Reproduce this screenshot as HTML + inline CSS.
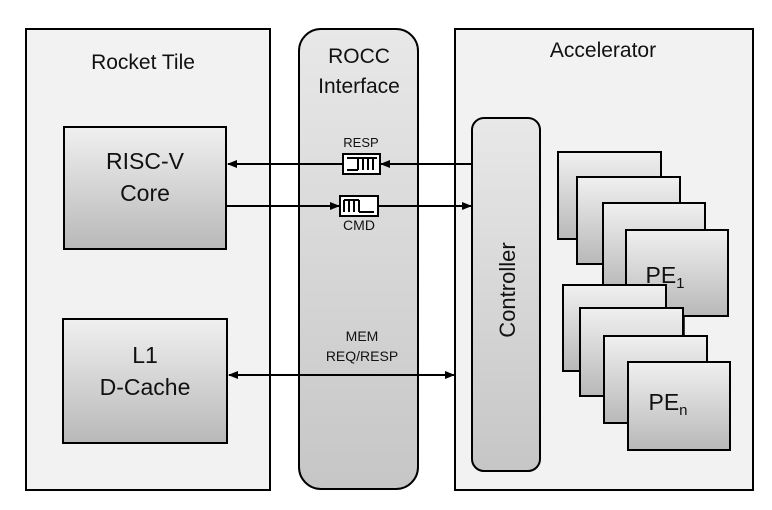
<!DOCTYPE html>
<html><head><style>
html,body{margin:0;padding:0;background:#fff;}
svg{display:block;}
text{font-family:"Liberation Sans",sans-serif;fill:#111;}
</style></head><body>
<svg width="772" height="510" viewBox="0 0 772 510" xmlns="http://www.w3.org/2000/svg">
<defs>
<linearGradient id="g" x1="0" y1="0" x2="0" y2="1">
<stop offset="0" stop-color="#f0f0f0"/><stop offset="1" stop-color="#b8b8b8"/>
</linearGradient>
<linearGradient id="g2" x1="0" y1="0" x2="0" y2="1">
<stop offset="0" stop-color="#e8e8e8"/><stop offset="1" stop-color="#c6c6c6"/>
</linearGradient>
<marker id="a" markerWidth="10" markerHeight="8" refX="9" refY="4" orient="auto" markerUnits="userSpaceOnUse">
<path d="M0,0 L10,4 L0,8 z" fill="#000"/></marker>
<marker id="b" markerWidth="10" markerHeight="8" refX="1" refY="4" orient="auto" markerUnits="userSpaceOnUse">
<path d="M10,0 L0,4 L10,8 z" fill="#000"/></marker>
</defs>
<rect x="26" y="29" width="244" height="461" fill="#f2f2f2" stroke="#000" stroke-width="2"/>
<rect x="299" y="29" width="119" height="460" rx="22" fill="url(#g2)" stroke="#000" stroke-width="2"/>
<rect x="455" y="29" width="298" height="461" fill="#f2f2f2" stroke="#000" stroke-width="2"/>
<text x="143" y="69" font-size="21" text-anchor="middle">Rocket Tile</text>
<text x="359" y="63" font-size="21" text-anchor="middle">ROCC</text>
<text x="359" y="93" font-size="21" text-anchor="middle">Interface</text>
<text x="603" y="57" font-size="21" text-anchor="middle">Accelerator</text>
<rect x="64" y="127" width="162" height="122" fill="url(#g)" stroke="#000" stroke-width="2"/>
<text x="145" y="169" font-size="23" text-anchor="middle">RISC-V</text>
<text x="145" y="201" font-size="23" text-anchor="middle">Core</text>
<rect x="63" y="319" width="164" height="124" fill="url(#g)" stroke="#000" stroke-width="2"/>
<text x="145" y="363" font-size="23" text-anchor="middle">L1</text>
<text x="145" y="395" font-size="23" text-anchor="middle">D-Cache</text>
<rect x="472" y="118" width="68" height="353" rx="12" fill="url(#g2)" stroke="#000" stroke-width="2"/>
<text transform="translate(515,290) rotate(-90)" font-size="22" text-anchor="middle">Controller</text>
<line x1="684" y1="316" x2="684" y2="336" stroke="#000" stroke-width="1.5"/>
<rect x="558" y="152" width="103" height="87" fill="url(#g)" stroke="#000" stroke-width="2"/>
<rect x="577" y="177" width="103" height="87" fill="url(#g)" stroke="#000" stroke-width="2"/>
<rect x="603" y="203" width="102" height="87" fill="url(#g)" stroke="#000" stroke-width="2"/>
<rect x="626" y="230" width="102" height="86" fill="url(#g)" stroke="#000" stroke-width="2"/>
<text x="665" y="283" font-size="23" text-anchor="middle">PE<tspan font-size="15" dy="5">1</tspan></text>
<rect x="563" y="285" width="103" height="86" fill="url(#g)" stroke="#000" stroke-width="2"/>
<rect x="580" y="308" width="103" height="88" fill="url(#g)" stroke="#000" stroke-width="2"/>
<rect x="604" y="336" width="103" height="87" fill="url(#g)" stroke="#000" stroke-width="2"/>
<rect x="628" y="362" width="102" height="88" fill="url(#g)" stroke="#000" stroke-width="2"/>
<text x="668" y="410" font-size="23" text-anchor="middle">PE<tspan font-size="15" dy="5">n</tspan></text>
<line x1="472" y1="164" x2="381" y2="164" stroke="#000" stroke-width="2" marker-end="url(#a)"/>
<line x1="343" y1="164" x2="228" y2="164" stroke="#000" stroke-width="2" marker-end="url(#a)"/>
<line x1="226" y1="206" x2="339" y2="206" stroke="#000" stroke-width="2" marker-end="url(#a)"/>
<line x1="378" y1="206" x2="471" y2="206" stroke="#000" stroke-width="2" marker-end="url(#a)"/>
<line x1="229" y1="375" x2="454" y2="375" stroke="#000" stroke-width="2" marker-end="url(#a)" marker-start="url(#b)"/>
<rect x="343" y="154" width="37" height="20" fill="#fff" stroke="#000" stroke-width="2"/>
<path d="M347,170 H358 M358,158 V170 M363,158 V170 M368,158 V170 M373,158 V170 M347,158 H377" stroke="#000" stroke-width="2" fill="none"/>
<rect x="340" y="196" width="38" height="20" fill="#fff" stroke="#000" stroke-width="2"/>
<path d="M344,200 V212 M349,200 V212 M354,200 V212 M359,200 V212 M359,212 H374 M344,200 H359" stroke="#000" stroke-width="2" fill="none"/>
<text x="361" y="147" font-size="13" text-anchor="middle">RESP</text>
<text x="359" y="230" font-size="14" text-anchor="middle">CMD</text>
<text x="362" y="341" font-size="14" text-anchor="middle">MEM</text>
<text x="362" y="361" font-size="14" text-anchor="middle">REQ/RESP</text>
</svg>
</body></html>
